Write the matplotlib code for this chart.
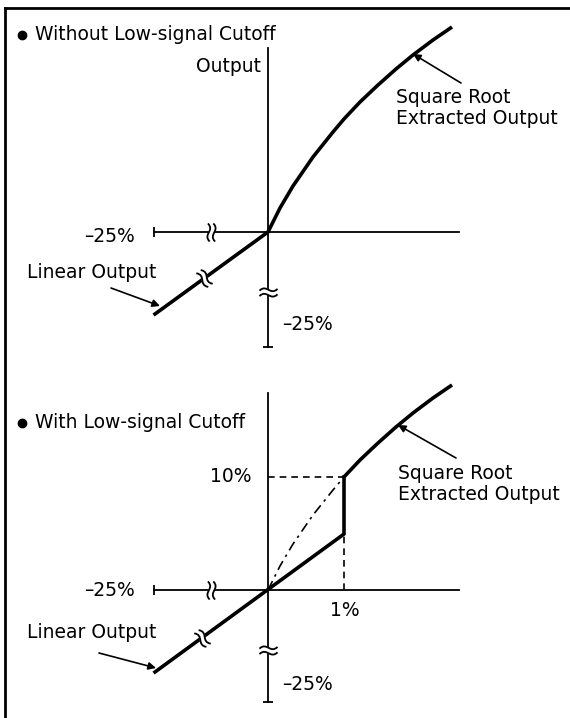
import matplotlib.pyplot as plt
from matplotlib.lines import Line2D
from matplotlib.path import Path
from matplotlib.markers import MarkerStyle
from matplotlib.transforms import Affine2D

plt.rcParams['font.family'] = ['DejaVu Sans']

# diagram units: 1 unit = 1 px, origin at the crossing of the axes
sqrt_in = [0, 12, 25, 45, 65, 76, 92, 110, 128, 145, 165, 184]
sqrt_out = [0, 24, 46, 75, 100, 113, 130, 147, 163, 177, 192, 205]
cut_idx = 5             # 1 % input -> 10 % output
linear_low = (-113, -82)
linear_cut = (76, 56)

h_axis = (-114, 191)
v_axis_top = (184, -115)
v_axis_bot = (197, -112)

panels = ['Without Low-signal Cutoff', 'With Low-signal Cutoff']
lbl_neg = '–25%'
lbl_sr = 'Square Root\nExtracted Output'
lbl_lin = 'Linear Output'

fs = 13.5
thick = 2.6
thin = 1.3

fig = plt.figure(figsize=(5.7, 7.18), dpi=100)
ax1 = fig.add_axes([0, 358 / 718, 1, 360 / 718])
ax2 = fig.add_axes([0, 0, 1, 358 / 718])
ax1.set_xlim(-268, 302)
ax1.set_ylim(-128, 232)
ax2.set_xlim(-268, 302)
ax2.set_ylim(-128, 230)

# break symbol: two S strokes with the line blanked between them
def s_pts(x0):
    return [(x0 + 0.05, -0.5), (x0 - 0.35, -0.1), (x0 + 0.35, 0.1), (x0 - 0.05, 0.5)]

a, b = s_pts(-0.15), s_pts(0.15)
fill_path = Path(a + b[::-1] + [a[0]],
                 [Path.MOVETO, Path.CURVE4, Path.CURVE4, Path.CURVE4,
                  Path.LINETO, Path.CURVE4, Path.CURVE4, Path.CURVE4, Path.CLOSEPOLY])
stroke_path = Path(a + b, [Path.MOVETO, Path.CURVE4, Path.CURVE4, Path.CURVE4] * 2)


def brk(ax, x, y, ang):
    t = Affine2D().rotate_deg(ang)
    ax.plot([x], [y], marker=MarkerStyle(fill_path, transform=t), ms=13,
            mfc='white', mec='white', mew=0.8, zorder=5)
    ax.plot([x], [y], marker=MarkerStyle(stroke_path, fillstyle='none', transform=t),
            ms=13, mec='black', mew=1.3, zorder=6)


for ax, vax in [(ax1, v_axis_top), (ax2, v_axis_bot)]:
    ax.axis('off')
    ax.plot(h_axis, [0, 0], color='black', lw=thin)
    ax.plot([0, 0], vax, color='black', lw=thin)
    ax.plot([h_axis[0]], [0], marker='|', ms=7, mew=thin, color='black')
    ax.plot([0], [vax[1]], marker='_', ms=7, mew=thin, color='black')

arr = dict(arrowstyle='-|>', lw=1.2, color='black', mutation_scale=11, shrinkA=0, shrinkB=0)

# top panel
ax1.plot(sqrt_in, sqrt_out, color='black', lw=thick, solid_capstyle='butt')
ax1.plot([linear_low[0], 0], [linear_low[1], 0], color='black', lw=thick)
s1 = linear_low[1] / linear_low[0]
brk(ax1, -57, 0, 0)
brk(ax1, -64, -64 * s1, 35.6)
brk(ax1, 0, -60, 90)

ax1.plot([-246], [197], 'o', ms=6, color='black')
ax1.text(-233, 197, panels[0], fontsize=fs, ha='left', va='center')
ax1.text(-7, 165, 'Output', fontsize=fs, ha='right', va='center')
ax1.text(128, 124, lbl_sr, fontsize=fs, ha='left', va='center', linespacing=1.1)
ax1.text(-133, -5, lbl_neg, fontsize=fs, ha='right', va='center')
ax1.text(14, -93, lbl_neg, fontsize=fs, ha='left', va='center')
ax1.text(-241, -40, lbl_lin, fontsize=fs, ha='left', va='center')
ax1.annotate('', xy=(145, 178), xytext=(193, 149), arrowprops=arr)
ax1.annotate('', xy=(-108, -74), xytext=(-157, -56), arrowprops=arr)

# bottom panel
cut_in, cut_out = sqrt_in[cut_idx], sqrt_out[cut_idx]
ax2.plot(sqrt_in[cut_idx:], sqrt_out[cut_idx:], color='black', lw=thick, solid_capstyle='butt')
ax2.plot([linear_low[0], linear_cut[0], linear_cut[0]],
         [linear_low[1], linear_cut[1], cut_out], color='black', lw=thick,
         solid_joinstyle='miter')
ax2.plot(sqrt_in[:cut_idx + 1], sqrt_out[:cut_idx + 1], color='black', lw=1.2,
         dashes=(6, 3, 1.5, 3))
ax2.plot([0, cut_in], [cut_out, cut_out], color='black', lw=1.2, dashes=(4, 3))
ax2.plot([cut_in, cut_in], [0, linear_cut[1]], color='black', lw=1.2, dashes=(4, 3))
s2 = (linear_cut[1] - linear_low[1]) / (linear_cut[0] - linear_low[0])
brk(ax2, -57, 0, 0)
brk(ax2, -66, -66 * s2, 36.3)
brk(ax2, 0, -60, 90)

ax2.plot([-246], [167], 'o', ms=6, color='black')
ax2.text(-233, 167, panels[1], fontsize=fs, ha='left', va='center')
ax2.text(-17, cut_out, '10%', fontsize=fs, ha='right', va='center')
ax2.text(130, 106, lbl_sr, fontsize=fs, ha='left', va='center', linespacing=1.1)
ax2.text(-133, -1, lbl_neg, fontsize=fs, ha='right', va='center')
ax2.text(cut_in + 1, -20, '1%', fontsize=fs, ha='center', va='center')
ax2.text(-241, -43, lbl_lin, fontsize=fs, ha='left', va='center')
ax2.text(14, -95, lbl_neg, fontsize=fs, ha='left', va='center')
ax2.annotate('', xy=(130, 165), xytext=(188, 132), arrowprops=arr)
ax2.annotate('', xy=(-112, -78), xytext=(-169, -63), arrowprops=arr)

# frame (cropped on right and bottom)
fig.add_artist(Line2D([5 / 570, 1], [1 - 8 / 718, 1 - 8 / 718], color='black', lw=2))
fig.add_artist(Line2D([5 / 570, 5 / 570], [1 - 8 / 718, 0], color='black', lw=2))

fig.savefig('out.png', dpi=100)
